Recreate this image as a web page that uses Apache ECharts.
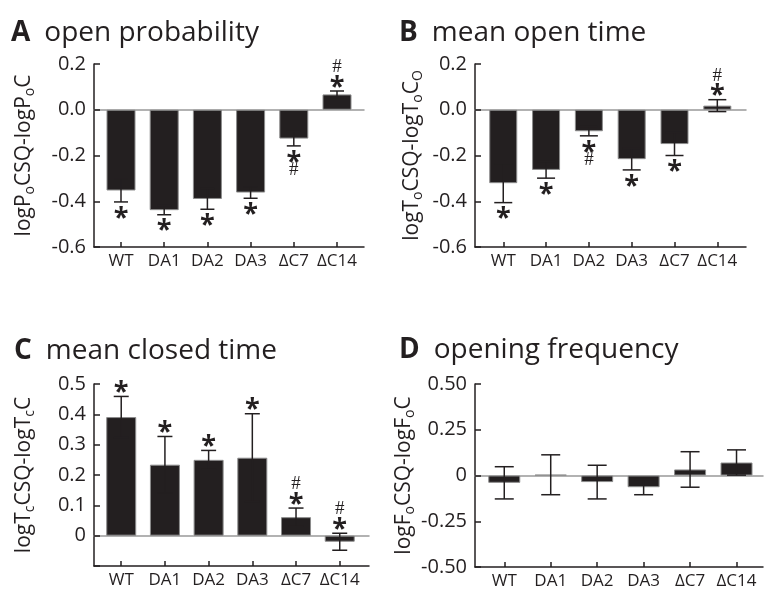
<!DOCTYPE html>
<html>
<head>
<meta charset="utf-8">
<script src="https://cdn.jsdelivr.net/npm/echarts@6/dist/echarts.min.js"></script>
<style>
  html, body { margin: 0; padding: 0; background: #fff; }
  #chart { width: 766px; height: 594px; }
</style>
</head>
<body>
<div id="chart"></div>
<script>
// 类别
const categories = ['WT', 'DA1', 'DA2', 'DA3', 'ΔC7', 'ΔC14']

// A open probability
const openProb = [-0.353, -0.439, -0.390, -0.362, -0.126, 0.067]
const openProbErr = [0.050, 0.020, 0.045, 0.025, 0.032, 0.015]
const openProbMarks = ['*', '*', '*', '*', '*#', '*#']

// B mean open time
const openTime = [-0.321, -0.263, -0.094, -0.216, -0.150, 0.018]
const openTimeErr = [0.085, 0.036, 0.020, 0.047, 0.050, 0.026]
const openTimeMarks = ['*', '*', '*#', '*', '*', '*#']

// C mean closed time
const closedTime = [0.391, 0.234, 0.250, 0.257, 0.061, -0.020]
const closedTimeErr = [0.068, 0.093, 0.031, 0.145, 0.030, 0.028]
const closedTimeMarks = ['*', '*', '*', '*', '*#', '*#']

// D opening frequency
const openFreq = [-0.040, 0.004, -0.036, -0.064, 0.033, 0.071]
const openFreqErr = [0.088, 0.109, 0.092, 0.041, 0.097, 0.069]
const openFreqMarks = ['', '', '', '', '', '']

const ink = '#231f20'
const font = 'Open Sans'

const fmt1 = v => (Math.round(v * 10) / 10).toFixed(1).replace('-0.0', '0.0')
const fmtC = v => Math.abs(v) < 1e-9 ? '0' : (v < 0 ? '' : v.toFixed(1))
const fmtD = v => Math.abs(v) < 1e-9 ? '0' : v.toFixed(2)

const panels = [
  { letter: 'A', title: 'open probability', values: openProb, errors: openProbErr, marks: openProbMarks,
    left: 94, top: 64, width: 270, height: 183, xMin: -0.625, xMax: 5.625,
    yMin: -0.6, yMax: 0.2, yInterval: 0.2, fmt: fmt1, barWidth: 29, capWidth: 14,
    name: '{n|logP}{s|o}{n|CSQ-logP}{s|o}{n|C}', nameGap: 57, titleLeft: 11, titleTop: 18 },
  { letter: 'B', title: 'mean open time', values: openTime, errors: openTimeErr, marks: openTimeMarks,
    left: 475, top: 64, width: 271, height: 183, xMin: -0.66, xMax: 5.67,
    yMin: -0.6, yMax: 0.2, yInterval: 0.2, fmt: fmt1, barWidth: 28, capWidth: 18,
    name: '{n|logT}{s|o}{n|CSQ-logT}{s|o}{n|C}{s|O}', nameGap: 50, titleLeft: 399, titleTop: 18 },
  { letter: 'C', title: 'mean closed time', values: closedTime, errors: closedTimeErr, marks: closedTimeMarks,
    left: 94, top: 384, width: 275, height: 182, xMin: -0.623, xMax: 5.67,
    yMin: -0.1, yMax: 0.5, yInterval: 0.1, fmt: fmtC, barWidth: 30, capWidth: 15,
    name: '{n|logT}{s|c}{n|CSQ-logT}{s|c}{n|C}', nameGap: 57, titleLeft: 14, titleTop: 336 },
  { letter: 'D', title: 'opening frequency', values: openFreq, errors: openFreqErr, marks: openFreqMarks,
    left: 475, top: 384, width: 288, height: 183, xMin: -0.63, xMax: 5.57,
    yMin: -0.5, yMax: 0.5, yInterval: 0.25, fmt: fmtD, barWidth: 32, capWidth: 19,
    name: '{n|logF}{s|o}{n|CSQ-logF}{s|o}{n|C}', nameGap: 50, titleLeft: 399, titleTop: 335 }
]

const tickValues = categories.map((c, i) => i)

const option = { animation: false, grid: [], xAxis: [], yAxis: [], series: [], title: [] }

panels.forEach((p, i) => {
  option.title.push({
    text: `{b|${p.letter}}{t|${p.title}}`,
    left: p.titleLeft,
    top: p.titleTop,
    padding: 0,
    textStyle: {
      rich: {
        b: { fontFamily: font, fontWeight: 'bold', fontSize: 28, color: ink, lineHeight: 30, padding: [0, 14, 0, 0] },
        t: { fontFamily: font, fontWeight: 'normal', fontSize: 28, color: ink, lineHeight: 30 }
      }
    }
  })

  option.grid.push({ left: p.left, top: p.top, width: p.width, height: p.height })

  // 底部坐标轴（带类别标签）
  option.xAxis.push({
    type: 'value',
    gridIndex: i,
    min: p.xMin,
    max: p.xMax,
    position: 'bottom',
    axisLine: { onZero: false, lineStyle: { color: ink, width: 1.5 } },
    axisTick: { inside: true, length: 5, customValues: tickValues, lineStyle: { color: ink, width: 1.5 } },
    axisLabel: {
      customValues: tickValues,
      formatter: v => categories[Math.round(v)],
      fontFamily: font, fontSize: 17, color: ink, margin: 6
    },
    splitLine: { show: false }
  })
  // 零线
  option.xAxis.push({
    type: 'value',
    gridIndex: i,
    min: p.xMin,
    max: p.xMax,
    axisLine: { onZero: true, lineStyle: { color: '#999', width: 1.5 } },
    axisTick: { show: false },
    axisLabel: { show: false },
    splitLine: { show: false }
  })

  option.yAxis.push({
    type: 'value',
    gridIndex: i,
    min: p.yMin,
    max: p.yMax,
    interval: p.yInterval,
    position: 'left',
    name: p.name,
    nameLocation: 'middle',
    nameGap: p.nameGap,
    nameTextStyle: {
      rich: {
        n: { fontFamily: font, fontSize: 21, color: ink, lineHeight: 26, verticalAlign: 'middle' },
        s: { fontFamily: font, fontSize: 14, color: ink, lineHeight: 14, verticalAlign: 'bottom' }
      }
    },
    axisLine: { show: true, onZero: false, lineStyle: { color: ink, width: 1.5 } },
    axisTick: { show: true, inside: true, length: 6, lineStyle: { color: ink, width: 1.5 } },
    axisLabel: { formatter: p.fmt, fontFamily: font, fontSize: 20, color: ink, margin: 8 },
    splitLine: { show: false }
  })

  // 柱子
  option.series.push({
    type: 'bar',
    xAxisIndex: 2 * i,
    yAxisIndex: i,
    barWidth: p.barWidth,
    itemStyle: { color: ink, borderColor: '#8c8c8c', borderWidth: 1 },
    data: p.values.map((v, j) => [j, v])
  })

  // 误差线
  option.series.push({
    type: 'custom',
    xAxisIndex: 2 * i,
    yAxisIndex: i,
    clip: false,
    z: 3,
    encode: { x: 0, y: 1 },
    data: p.values.map((v, j) => [j, v, p.errors[j]]),
    renderItem: (params, api) => {
      const x = api.value(0), y = api.value(1), e = api.value(2)
      const hi = api.coord([x, y + e])
      const lo = api.coord([x, y - e])
      const h = p.capWidth / 2
      const style = { stroke: ink, lineWidth: 1.5 }
      return {
        type: 'group',
        children: [
          { type: 'line', shape: { x1: hi[0], y1: hi[1], x2: lo[0], y2: lo[1] }, style },
          { type: 'line', shape: { x1: hi[0] - h, y1: hi[1], x2: hi[0] + h, y2: hi[1] }, style },
          { type: 'line', shape: { x1: lo[0] - h, y1: lo[1], x2: lo[0] + h, y2: lo[1] }, style }
        ]
      }
    }
  })

  // 显著性标记
  option.series.push({
    type: 'custom',
    xAxisIndex: 2 * i,
    yAxisIndex: i,
    clip: false,
    z: 4,
    encode: { x: 0, y: 1 },
    data: p.values.map((v, j) => [j, v, p.errors[j]]),
    renderItem: (params, api) => {
      const x = api.value(0), y = api.value(1), e = api.value(2)
      const marks = p.marks[params.dataIndex]
      const above = y + e > 0
      const end = api.coord([x, above ? y + e : y - e])
      const dir = above ? -1 : 1
      const children = marks.split('').map(m => {
        const star = m === '*'
        const off = star ? 10 : 24
        return {
          type: 'text',
          x: end[0],
          y: end[1] + dir * off + (star ? 6 : 0),
          style: {
            text: m,
            fill: ink,
            font: star ? `bold 27px "${font}"` : '19px "Liberation Serif"',
            align: 'center', verticalAlign: 'middle',
            textAlign: 'center', textVerticalAlign: 'middle'
          }
        }
      })
      return { type: 'group', children }
    }
  })
})

const chart = echarts.init(document.getElementById('chart'))
chart.setOption(option)
</script>
</body>
</html>
